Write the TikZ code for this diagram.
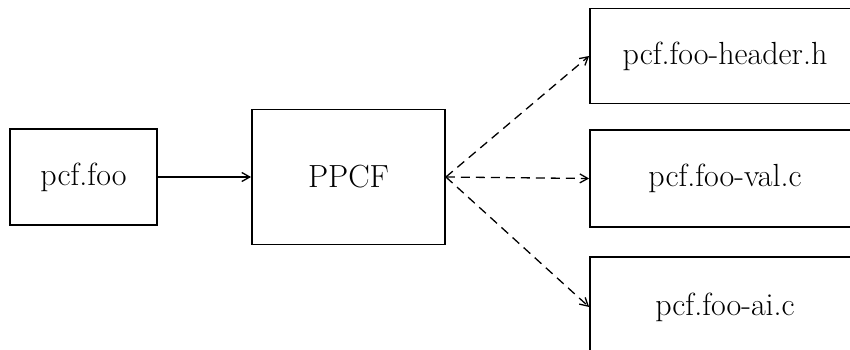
\documentclass[tikz,border=0pt]{standalone}
\usetikzlibrary{arrows.meta}
\begin{document}
\begin{tikzpicture}[x=1pt,y=-1pt,
  box/.style={draw,line width=1.8pt,rectangle,inner sep=0pt,font=\fontsize{32}{36}\selectfont},
  conn/.style={line width=1.3pt,-{Straight Barb[length=8pt,width=9pt,line width=1.3pt]}},
  dconn/.style={conn,dash pattern=on 9pt off 6pt}]
\useasboundingbox (0,0) rectangle (850,350);
\clip (0,0) rectangle (850,350);
\node[box,minimum width=147pt,minimum height=96pt] (foo) at (83.5,177) {pcf.foo};
\node[box,minimum width=193pt,minimum height=135pt] (ppcf) at (348.5,177) {PPCF};
\node[box,minimum width=270pt,minimum height=95pt] (hdr) at (725,56) {pcf.foo-header.h};
\node[box,minimum width=270pt,minimum height=97pt] (val) at (725,178.5) {pcf.foo-val.c};
\node[box,minimum width=270pt,minimum height=100pt] (ai) at (725,307) {pcf.foo-ai.c};
\draw[conn] (foo.east) -- (ppcf.west);
\draw[dconn] (ppcf.east) -- (hdr.west);
\draw[dconn] (ppcf.east) -- (val.west);
\draw[dconn] (ppcf.east) -- (ai.west);
\end{tikzpicture}
\end{document}
